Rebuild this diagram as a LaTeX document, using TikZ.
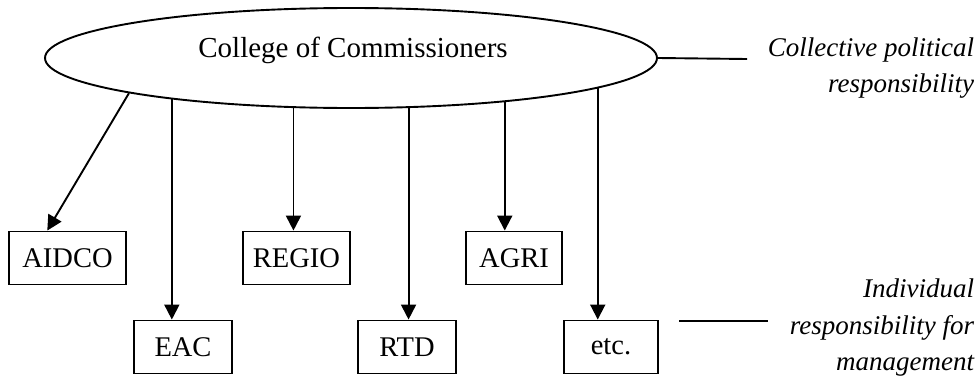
\documentclass[tikz,border=0pt]{standalone}
\usepackage{fontspec}
\setmainfont{Liberation Serif}
\usetikzlibrary{arrows.meta,shapes.geometric,calc}
\begin{document}
\begin{tikzpicture}[x=1pt,y=-1pt,line width=1.9pt,
  box/.style={draw,rectangle,inner sep=0pt,font=\fontsize{28.5}{32}\selectfont,minimum height=53pt},
  arr/.style={-{Triangle[length=15pt,width=15pt]}},
  note/.style={font=\fontsize{27}{36.5}\selectfont\itshape,align=right,inner sep=0pt,anchor=north east},
  plain/.style={line width=1.9pt}]
\useasboundingbox (0,0) rectangle (977,375);
% ellipse
\node[draw,ellipse,minimum width=612pt,minimum height=100pt,inner sep=0pt] (coll) at (351,58) {};
\node[font=\fontsize{29}{34}\selectfont,anchor=base,inner sep=0pt] (colltxt) at (353,57) {College of Commissioners};
% boxes
\node[box,minimum width=117pt] (aidco) at (67.5,258) {AIDCO};
\node[box,minimum width=107pt] (regio) at (296.5,258) {REGIO};
\node[box,minimum width=96pt] (agri) at (514,258) {AGRI};
\node[box,minimum width=98pt] (eac) at (183,347) {EAC};
\node[box,minimum width=98pt] (rtd) at (407,347) {RTD};
\node[box,minimum width=94pt] (etcb) at (611,347) {etc.};
% arrows
\draw[arr] (coll.189.5) -- ($(aidco.north west)!0.33!(aidco.north east)$);
\draw[arr] (coll.193.9) -- (coll.193.9 |- eac.north);
\draw[arr] (coll.221.3) -- (coll.221.3 |- regio.north);
\draw[arr] (coll.319.3) -- (coll.319.3 |- rtd.north);
\draw[arr] (coll.344.0) -- (coll.344.0 |- agri.north);
\draw[arr] (coll.353.9) -- (coll.353.9 |- etcb.north);
% side lines
\coordinate (topend) at (747,59);
\draw[plain] (coll.east) -- (topend);
\coordinate (bota) at (679,321);
\coordinate (botb) at (768,321);
\draw[plain] (bota) -- (botb);
% notes
\node[note] (n1) at (975,36.5) {Collective political\\responsibility};
\node[note] (n2) at (975,278) {Individual\\responsibility for\\management};
\end{tikzpicture}
\end{document}
